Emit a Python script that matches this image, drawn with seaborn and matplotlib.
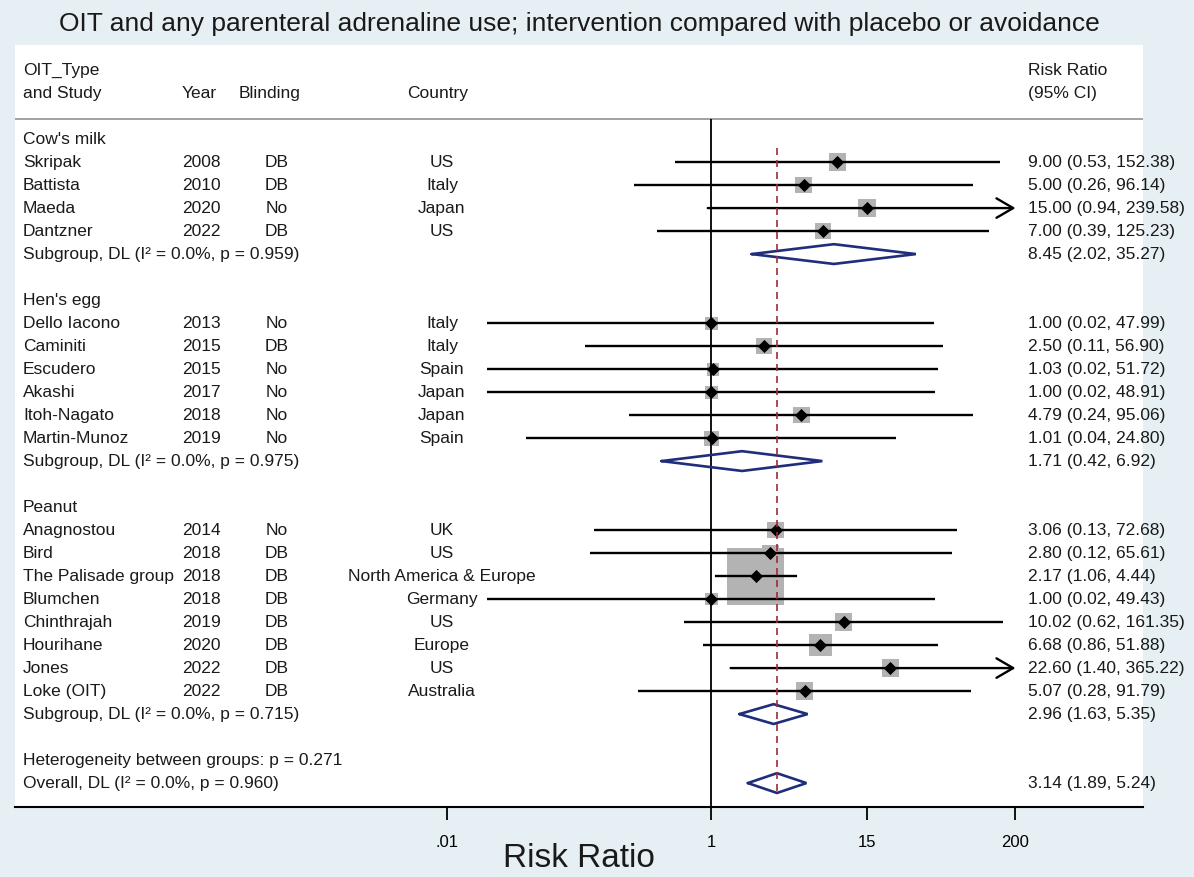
import numpy as np
import pandas as pd
import matplotlib
matplotlib.use("Agg")
import matplotlib.pyplot as plt
import seaborn as sns

# ---------------- data ----------------
group_names = ["Cow's milk", "Hen's egg", "Peanut"]
studies = ["Skripak", "Battista", "Maeda", "Dantzner",
           "Dello Iacono", "Caminiti", "Escudero", "Akashi", "Itoh-Nagato", "Martin-Munoz",
           "Anagnostou", "Bird", "The Palisade group", "Blumchen", "Chinthrajah", "Hourihane", "Jones", "Loke (OIT)"]
groups = ["Cow's milk"] * 4 + ["Hen's egg"] * 6 + ["Peanut"] * 8
years = [2008, 2010, 2020, 2022,
         2013, 2015, 2015, 2017, 2018, 2019,
         2014, 2018, 2018, 2018, 2019, 2020, 2022, 2022]
blinding = ["DB", "DB", "No", "DB",
            "No", "DB", "No", "No", "No", "No",
            "No", "DB", "DB", "DB", "DB", "DB", "DB", "DB"]
countries = ["US", "Italy", "Japan", "US",
             "Italy", "Italy", "Spain", "Japan", "Japan", "Spain",
             "UK", "US", "North America & Europe", "Germany", "US", "Europe", "US", "Australia"]
rr = [9.00, 5.00, 15.00, 7.00,
      1.00, 2.50, 1.03, 1.00, 4.79, 1.01,
      3.06, 2.80, 2.17, 1.00, 10.02, 6.68, 22.60, 5.07]
ci_lo = [0.53, 0.26, 0.94, 0.39,
         0.02, 0.11, 0.02, 0.02, 0.24, 0.04,
         0.13, 0.12, 1.06, 0.02, 0.62, 0.86, 1.40, 0.28]
ci_hi = [152.38, 96.14, 239.58, 125.23,
         47.99, 56.90, 51.72, 48.91, 95.06, 24.80,
         72.68, 65.61, 4.44, 49.43, 161.35, 51.88, 365.22, 91.79]
weights = [3.99, 3.56, 4.13, 3.56,
           2.15, 2.98, 2.15, 2.15, 3.56, 2.87,
           3.56, 3.56, 41.43, 2.09, 3.90, 6.63, 3.86, 3.86]

sub_rr = [8.45, 1.71, 2.96]
sub_lo = [2.02, 0.42, 1.63]
sub_hi = [35.27, 6.92, 5.35]
sub_i2 = ["0.0%", "0.0%", "0.0%"]
sub_p = ["0.959", "0.975", "0.715"]

overall_rr, overall_lo, overall_hi = 3.14, 1.89, 5.24
overall_i2, overall_p = "0.0%", "0.960"
het_between_p = "0.271"

xticks = [0.01, 1, 15, 200]
xtick_labels = [".01", "1", "15", "200"]
x_clip = 200

# ---------------- layout ----------------
sns.set_style("white")
plt.rcParams["font.family"] = ["Liberation Sans", "DejaVu Sans"]

W, H = 1194, 877
fig = plt.figure(figsize=(W / 100, H / 100), dpi=100)
bg = "#e6eff3"
fig.patch.set_facecolor(bg)

px_left, px_right, px_top, px_bot = 15, 1143, 45, 807
ax = fig.add_axes([px_left / W, 1 - px_bot / H, (px_right - px_left) / W, (px_bot - px_top) / H])
ax.set_facecolor("white")

# log axis: value 1 at pixel 711.3, 132.2 px per decade
px_one, px_dec = 711.3, 132.2
ax.set_xscale("log")
ax.set_xlim(10 ** ((px_left - px_one) / px_dec), 10 ** ((px_right - px_one) / px_dec))

# rows
row_top = -4.09
row_bot = 29.04
ax.set_ylim(row_bot, row_top)

rows = []
sub_rows = []
group_rows = []
r = 0
for g in group_names:
    group_rows.append(r)
    r += 1
    for i, gg in enumerate(groups):
        if gg == g:
            rows.append(r)
            r += 1
    sub_rows.append(r)
    r += 2
het_row = r
overall_row = r + 1

df = pd.DataFrame({"study": studies, "rr": rr, "lo": ci_lo, "hi": ci_hi,
                   "w": weights, "row": rows})

txt_color = "#1a1a1a"
fs = 12.5
tr = ax.get_yaxis_transform()


def px(x):
    return (x - px_left) / (px_right - px_left)


# header
ax.text(px(23), -3, "OIT_Type", transform=tr, ha="left", va="center", fontsize=fs, color=txt_color)
ax.text(px(23), -2, "and Study", transform=tr, ha="left", va="center", fontsize=fs, color=txt_color)
ax.text(px(182), -2, "Year", transform=tr, ha="left", va="center", fontsize=fs, color=txt_color)
ax.text(px(270), -2, "Blinding", transform=tr, ha="center", va="center", fontsize=fs, color=txt_color)
ax.text(px(438), -2, "Country", transform=tr, ha="center", va="center", fontsize=fs, color=txt_color)
ax.text(px(1028), -3, "Risk Ratio", transform=tr, ha="left", va="center", fontsize=fs, color=txt_color)
ax.text(px(1028), -2, "(95% CI)", transform=tr, ha="left", va="center", fontsize=fs, color=txt_color)
ax.axhline(-0.87, color="#9a9a9a", lw=1.3, zorder=1)

# reference lines
ax.vlines(1, -0.87, row_bot, color="black", lw=1.3, zorder=2)
ax.vlines(overall_rr, 0.4, overall_row + 0.45, color="#9b2d35", lw=1.2,
          linestyles=(0, (4.2, 3.0)), zorder=5)

# boxes (area proportional to weight)
box_max_pt = 57 * 0.72
sns.scatterplot(data=df, x="rr", y="row", size="w", sizes=(0, box_max_pt ** 2),
                size_norm=(0, max(weights)), marker="s", color="#b3b3b3",
                linewidth=0, legend=False, ax=ax, zorder=1)

# confidence intervals
for _, d in df.iterrows():
    if d["hi"] > x_clip:
        ax.annotate("", xy=(x_clip, d["row"]), xytext=(d["lo"], d["row"]),
                    arrowprops=dict(arrowstyle="->, head_length=0.6, head_width=0.35",
                                    lw=1.7, color="black", shrinkA=0, shrinkB=0,
                                    mutation_scale=20), zorder=3)
    else:
        ax.hlines(d["row"], d["lo"], d["hi"], color="black", lw=1.7, zorder=3)

# point estimates
sns.scatterplot(data=df, x="rr", y="row", marker="D", color="black", s=45,
                linewidth=0, legend=False, ax=ax, zorder=4)

# study text columns
for i in range(len(studies)):
    y = rows[i]
    ax.text(px(23), y, studies[i], transform=tr, ha="left", va="center", fontsize=fs, color=txt_color)
    ax.text(px(182), y, str(years[i]), transform=tr, ha="left", va="center", fontsize=fs, color=txt_color)
    ax.text(px(277), y, blinding[i], transform=tr, ha="center", va="center", fontsize=fs, color=txt_color)
    ax.text(px(442), y, countries[i], transform=tr, ha="center", va="center", fontsize=fs, color=txt_color)
    ax.text(px(1028), y, f"{rr[i]:.2f} ({ci_lo[i]:.2f}, {ci_hi[i]:.2f})", transform=tr,
            ha="left", va="center", fontsize=fs, color=txt_color)

# diamonds
dcol = "#1f2d7a"
dh = 0.43


def diamond(y, est, lo, hi):
    xs = [lo, est, hi, est, lo]
    ys = [y, y - dh, y, y + dh, y]
    ax.plot(xs, ys, color=dcol, lw=1.9, zorder=4, solid_joinstyle="miter")


for k, g in enumerate(group_names):
    ax.text(px(23), group_rows[k], g, transform=tr, ha="left", va="center", fontsize=fs, color=txt_color)
    ys = sub_rows[k]
    ax.text(px(23), ys, f"Subgroup, DL (I\u00b2 = {sub_i2[k]}, p = {sub_p[k]})", transform=tr,
            ha="left", va="center", fontsize=fs, color=txt_color)
    ax.text(px(1028), ys, f"{sub_rr[k]:.2f} ({sub_lo[k]:.2f}, {sub_hi[k]:.2f})", transform=tr,
            ha="left", va="center", fontsize=fs, color=txt_color)
    diamond(ys, sub_rr[k], sub_lo[k], sub_hi[k])

ax.text(px(23), het_row, f"Heterogeneity between groups: p = {het_between_p}", transform=tr,
        ha="left", va="center", fontsize=fs, color=txt_color)
ax.text(px(23), overall_row, f"Overall, DL (I\u00b2 = {overall_i2}, p = {overall_p})", transform=tr,
        ha="left", va="center", fontsize=fs, color=txt_color)
ax.text(px(1028), overall_row, f"{overall_rr:.2f} ({overall_lo:.2f}, {overall_hi:.2f})", transform=tr,
        ha="left", va="center", fontsize=fs, color=txt_color)
diamond(overall_row, overall_rr, overall_lo, overall_hi)

# axes styling
for s in ["left", "right", "top"]:
    ax.spines[s].set_visible(False)
ax.spines["bottom"].set_color("black")
ax.spines["bottom"].set_linewidth(1.5)
ax.set_yticks([])
ax.set_xticks(xticks)
ax.set_xticklabels(xtick_labels)
ax.xaxis.set_minor_locator(matplotlib.ticker.NullLocator())
ax.tick_params(axis="x", which="major", direction="out", length=9, width=1.3,
               colors="black", labelsize=12, pad=11, bottom=True)
ax.set_ylabel("")
ax.set_xlabel("Risk Ratio", fontsize=24, color=txt_color, va="top")
ax.xaxis.set_label_coords(0.5, -0.047)

fig.text(0.5 * (px_left + px_right) / W, 1 - 24 / H,
         "OIT and any parenteral adrenaline use; intervention compared with placebo or avoidance",
         ha="center", va="center", fontsize=19, color=txt_color)

fig.savefig("out.png", dpi=100, facecolor=bg)
